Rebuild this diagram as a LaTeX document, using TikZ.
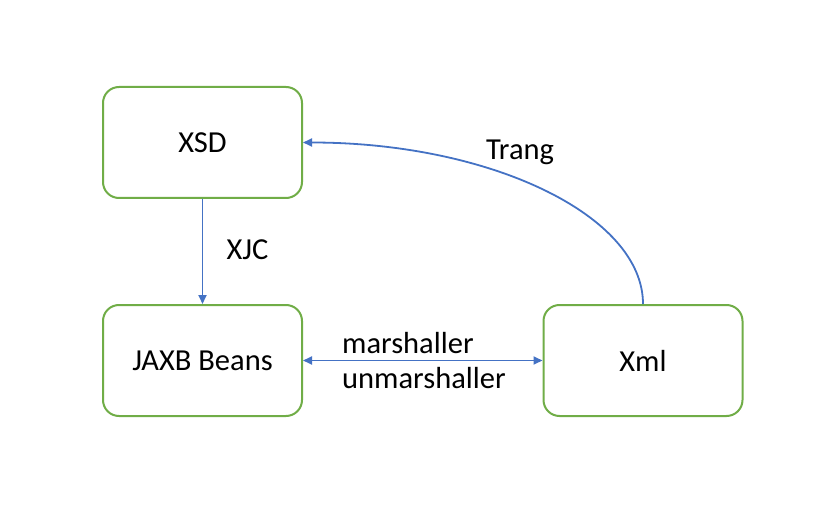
\documentclass[tikz,border=0pt]{standalone}
\usepackage{fontspec}
\setmainfont{Carlito}
\usetikzlibrary{arrows.meta}
\definecolor{boxgreen}{RGB}{112,173,71}
\definecolor{arrblue}{RGB}{68,114,196}
\begin{document}
\begin{tikzpicture}[x=1pt,y=-1pt,
  box/.style={draw=boxgreen,line width=2pt,rounded corners=16pt,minimum width=199pt,minimum height=111pt,inner sep=0pt,fill=white},
  conn/.style={draw=arrblue,line width=1.8pt,-{Triangle[length=9pt,width=8pt]}},
  lbl/.style={inner sep=0pt,text=black},
  every node/.style={font=\fontsize{30.5}{36}\selectfont}]
\useasboundingbox (0,0) rectangle (828,516);
\node[box] (xsd) at (202.5,142.5) {XSD};
\node[box] (jaxb) at (202.5,360.5) {JAXB Beans};
\node[box] (xml) at (643,360.5) {Xml};
\draw[conn] (xsd.south) -- (jaxb.north);
\draw[conn,{Triangle[length=9pt,width=8pt]}-{Triangle[length=9pt,width=8pt]}] (jaxb.east) -- (xml.west);
\draw[conn] (xml.north) .. controls (643,215.5) and (490.3,142.5) .. (xsd.east);
\node[lbl,anchor=base] (xjc) at (247.5,259) {XJC};
\node[lbl,anchor=base] (trang) at (520,160) {Trang};
\node[lbl,anchor=base west] (marsh) at (342,353) {marshaller};
\node[lbl,anchor=base west] (unmarsh) at (342,388) {unmarshaller};
\end{tikzpicture}
\end{document}
